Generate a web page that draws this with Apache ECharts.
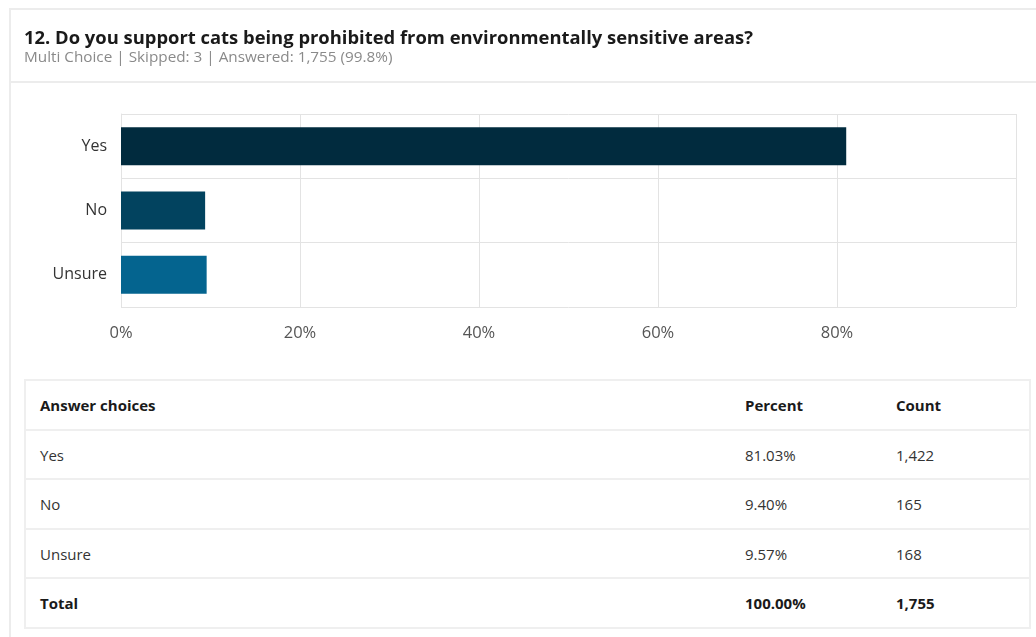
<!DOCTYPE html>
<html>
<head>
<meta charset="utf-8">
<script src="https://cdn.jsdelivr.net/npm/echarts@6/dist/echarts.min.js"></script>
<style>
  html, body { margin: 0; padding: 0; background: #fff; width: 1036px; height: 637px; overflow: hidden; font-family: "Open Sans", sans-serif; }
  .card { position: absolute; left: 9px; top: 8px; width: 1040px; height: 640px; border: 2px solid #ececec; box-sizing: border-box; }
  .sep { position: absolute; left: 9px; top: 81px; width: 1040px; height: 2px; background: #ececec; }
  #chart { position: absolute; left: 0; top: 0; width: 1036px; height: 360px; }
  table { position: absolute; left: 24px; top: 379px; width: 1007px; border-collapse: collapse; border: 2px solid #efefef; font-size: 15px; color: #333; }
  td { height: 46.5px; border-top: 2px solid #efefef; padding: 1px 0 0 0; }
  td:first-child { padding-left: 14px; width: 705px; }
  td:nth-child(2) { width: 151px; }
  tr.bold td { font-weight: bold; color: #1a1a1a; }
</style>
</head>
<body>
<div class="card"></div>
<div class="sep"></div>
<div id="chart"></div>
<table id="tbl"></table>
<script>
// Survey question 12 results
const categories = ['Yes', 'No', 'Unsure'];
const percents = [81.03, 9.40, 9.57];
const counts = [1422, 165, 168];
const totalPercent = 100.00;
const totalCount = 1755;
const barColors = ['#012b3e', '#02435f', '#04648f'];
const titleText = '12. Do you support cats being prohibited from environmentally sensitive areas?';
const subText = 'Multi Choice | Skipped: 3 | Answered: 1,755 (99.8%)';

const fmtCount = n => n.toLocaleString('en-US');

const chart = echarts.init(document.getElementById('chart'), null, { renderer: 'canvas' });
chart.setOption({
  backgroundColor: 'transparent',
  animation: false,
  title: {
    text: titleText,
    subtext: subText,
    left: 19,
    top: 25,
    itemGap: 2,
    textStyle: { fontFamily: 'Open Sans', fontSize: 18.4, fontWeight: 'bold', color: '#1a1a1a' },
    subtextStyle: { fontFamily: 'Open Sans', fontSize: 15.3, color: '#8a8a8a' }
  },
  grid: { left: 121, top: 114, width: 895, height: 193, containLabel: false },
  xAxis: {
    type: 'value',
    min: 0,
    max: 100,
    interval: 20,
    axisLine: { show: false },
    axisTick: { show: false },
    splitLine: { show: true, lineStyle: { color: '#e3e3e3', width: 1 } },
    axisLabel: {
      margin: 18,
      fontFamily: 'Open Sans',
      fontSize: 16.5,
      color: '#555',
      formatter: v => (v === 100 ? '' : v + '%')
    }
  },
  yAxis: {
    type: 'category',
    data: categories,
    inverse: true,
    axisLine: { show: true, lineStyle: { color: '#e3e3e3' } },
    axisTick: { show: false },
    splitLine: { show: true, lineStyle: { color: '#e3e3e3', width: 1 } },
    axisLabel: { margin: 14, fontFamily: 'Open Sans', fontSize: 16, color: '#333' }
  },
  series: [{
    type: 'bar',
    barWidth: 38,
    data: percents.map((v, i) => ({ value: v, itemStyle: { color: barColors[i] } }))
  }]
});

// Answer table
const rows = [['Answer choices', 'Percent', 'Count', true]]
  .concat(categories.map((c, i) => [c, percents[i].toFixed(2) + '%', fmtCount(counts[i]), false]))
  .concat([['Total', totalPercent.toFixed(2) + '%', fmtCount(totalCount), true]]);
const tbl = document.getElementById('tbl');
rows.forEach(r => {
  const tr = document.createElement('tr');
  if (r[3]) tr.className = 'bold';
  r.slice(0, 3).forEach(t => {
    const td = document.createElement('td');
    td.textContent = t;
    tr.appendChild(td);
  });
  tbl.appendChild(tr);
});
</script>
</body>
</html>
